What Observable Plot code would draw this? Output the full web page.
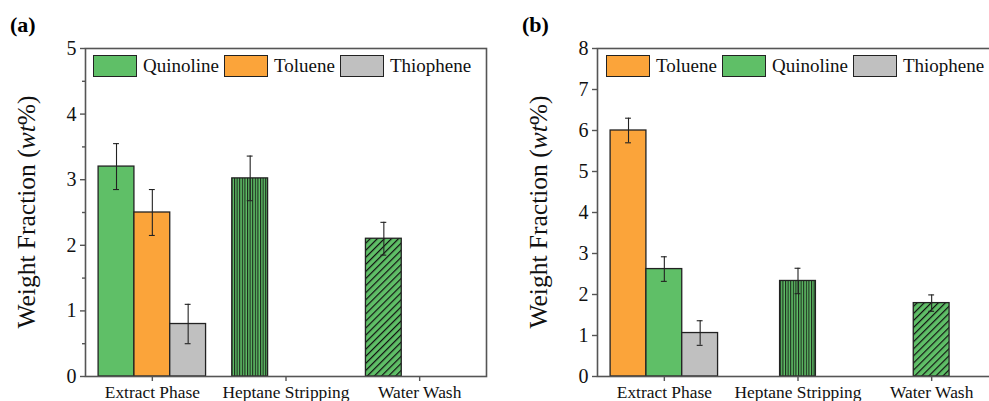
<!DOCTYPE html>
<html><head><meta charset="utf-8">
<script src="https://cdn.jsdelivr.net/npm/d3@7"></script>
<script src="https://cdn.jsdelivr.net/npm/@observablehq/plot@0.6"></script>
<style>
html,body{margin:0;padding:0;background:#fff;overflow:hidden;}
#wrap{position:relative;width:1010px;height:401px;overflow:hidden;}
.panel{position:absolute;top:0;}
.plabel{position:absolute;top:12px;font-family:"Liberation Serif",serif;font-weight:bold;font-size:22px;line-height:26px;}
.legend{position:absolute;top:55px;height:22px;display:flex;align-items:center;font-family:"Liberation Serif",serif;font-size:19px;color:#111;white-space:nowrap;}
.sw{box-sizing:border-box;width:44px;height:22px;border:1.3px solid #222;margin-right:6px;}
.lt{margin-right:5px;}
</style></head><body><div id="wrap"></div>
<script>
// ---- data ----
const categories = ["Extract Phase", "Heptane Stripping", "Water Wash"];

// panel (a)
const seriesA = ["Quinoline", "Toluene", "Thiophene"];
const quinolineA = [3.2, 3.02, 2.1];
const quinolineErrA = [0.35, 0.34, 0.25];
const tolueneA = [2.5, null, null];
const tolueneErrA = [0.35, null, null];
const thiopheneA = [0.8, null, null];
const thiopheneErrA = [0.3, null, null];
const yTicksA = [0, 1, 2, 3, 4, 5];
const yMinorA = [0.5, 1.5, 2.5, 3.5, 4.5];

// panel (b)
const seriesB = ["Toluene", "Quinoline", "Thiophene"];
const tolueneB = [6.0, null, null];
const tolueneErrB = [0.3, null, null];
const quinolineB = [2.62, 2.33, 1.79];
const quinolineErrB = [0.3, 0.31, 0.2];
const thiopheneB = [1.06, null, null];
const thiopheneErrB = [0.3, null, null];
const yTicksB = [0, 1, 2, 3, 4, 5, 6, 7, 8];
const yMinorB = [];

const colorOf = {Quinoline: "#5FBF67", Toluene: "#FBA43A", Thiophene: "#C0C0C0"};
const FONT = '"Liberation Serif", serif';

function makePanel({series, values, errors, yTicks, yMinor, idp}) {
  const W = 0.268, CAP = 0.022;
  const rows = [];
  series.forEach((s, j) => values[s].forEach((v, i) => {
    if (v == null) return;
    const c = i + (j - 1) * W;
    rows.push({cat: categories[i], ci: i, series: s, v, e: errors[s][i], x1: c - W / 2, x2: c + W / 2, xc: c});
  }));
  const yMax = yTicks[yTicks.length - 1];
  const barOpts = {x1: "x1", x2: "x2", y1: 0, y2: "v", stroke: "#222", strokeWidth: 1.3};
  const svgNode = Plot.plot({
    width: 493, height: 401,
    marginLeft: 85, marginRight: 7, marginTop: 48, marginBottom: 25,
    style: {fontFamily: FONT, color: "#111", background: "transparent"},
    x: {type: "linear", domain: [-0.5, 2.5], axis: null},
    y: {domain: [0, yMax], axis: null},
    color: {domain: series, range: series.map(s => colorOf[s])},
    marks: [
      Plot.rectY(rows.filter(d => d.ci === 0), {...barOpts, fill: "series"}),
      Plot.rectY(rows.filter(d => d.ci === 1), {...barOpts, fill: `url(#${idp}-v)`}),
      Plot.rectY(rows.filter(d => d.ci === 2), {...barOpts, fill: `url(#${idp}-d)`}),
      Plot.ruleX(rows, {x: "xc", y1: d => d.v - d.e, y2: d => d.v + d.e, stroke: "#222", strokeWidth: 1.1}),
      Plot.ruleY(rows, {x1: d => d.xc - CAP, x2: d => d.xc + CAP, y: d => d.v + d.e, stroke: "#222", strokeWidth: 1.1}),
      Plot.ruleY(rows, {x1: d => d.xc - CAP, x2: d => d.xc + CAP, y: d => d.v - d.e, stroke: "#222", strokeWidth: 1.1}),
      Plot.frame({stroke: "#555", strokeWidth: 1.6}),
      Plot.axisY({ticks: yTicks, tickSize: 5, tickPadding: 4, fontSize: 20, tickFormat: d => String(d), label: null, stroke: "#555", strokeWidth: 1.4}),
      ...(yMinor.length ? [Plot.axisY({ticks: yMinor, tickSize: 3, tickFormat: () => "", label: null, stroke: "#555", strokeWidth: 1.4})] : []),
      Plot.axisX({ticks: [0, 1, 2], tickFormat: i => categories[i], tickSize: 5, tickPadding: 4, fontSize: 17.4, label: null, stroke: "#555", strokeWidth: 1.4})
    ]
  });
  const svg = d3.select(svgNode);
  const defs = svg.insert("defs", ":first-child");
  const pv = defs.append("pattern").attr("id", idp + "-v").attr("patternUnits", "userSpaceOnUse")
    .attr("width", 2.6).attr("height", 10);
  pv.append("rect").attr("width", 2.6).attr("height", 10).attr("fill", colorOf.Quinoline);
  pv.append("rect").attr("x", 0).attr("width", 1.1).attr("height", 10).attr("fill", "#1a261a");
  const pd = defs.append("pattern").attr("id", idp + "-d").attr("patternUnits", "userSpaceOnUse")
    .attr("width", 5).attr("height", 10).attr("patternTransform", "rotate(45)");
  pd.append("rect").attr("width", 5).attr("height", 10).attr("fill", colorOf.Quinoline);
  pd.append("rect").attr("x", 0).attr("width", 1.2).attr("height", 10).attr("fill", "#111");
  const t = svg.append("text")
    .attr("transform", `translate(35,${(48 + 376) / 2}) rotate(-90)`)
    .attr("text-anchor", "middle").attr("font-size", 25.5).attr("font-family", FONT).attr("fill", "#111");
  t.append("tspan").text("Weight Fraction (");
  t.append("tspan").attr("font-style", "italic").text("wt");
  t.append("tspan").text("%)");
  return svgNode;
}

function legend(series, left) {
  const div = document.createElement("div");
  div.className = "legend";
  div.style.left = left + "px";
  series.forEach(s => {
    const sw = document.createElement("div");
    sw.className = "sw"; sw.style.background = colorOf[s];
    const tx = document.createElement("span");
    tx.className = "lt"; tx.textContent = s;
    div.appendChild(sw); div.appendChild(tx);
  });
  return div;
}

const wrap = document.getElementById("wrap");
const pa = makePanel({
  series: seriesA,
  values: {Quinoline: quinolineA, Toluene: tolueneA, Thiophene: thiopheneA},
  errors: {Quinoline: quinolineErrA, Toluene: tolueneErrA, Thiophene: thiopheneErrA},
  yTicks: yTicksA, yMinor: yMinorA, idp: "pa"
});
pa.classList.add("panel"); pa.style.left = "0px";
const pb = makePanel({
  series: seriesB,
  values: {Toluene: tolueneB, Quinoline: quinolineB, Thiophene: thiopheneB},
  errors: {Toluene: tolueneErrB, Quinoline: quinolineErrB, Thiophene: thiopheneErrB},
  yTicks: yTicksB, yMinor: yMinorB, idp: "pb"
});
pb.classList.add("panel"); pb.style.left = "512px";
wrap.appendChild(pa); wrap.appendChild(pb);
wrap.appendChild(legend(seriesA, 93));
wrap.appendChild(legend(seriesB, 606));
const la = document.createElement("div"); la.className = "plabel"; la.style.left = "10px"; la.textContent = "(a)";
const lb = document.createElement("div"); lb.className = "plabel"; lb.style.left = "522px"; lb.textContent = "(b)";
wrap.appendChild(la); wrap.appendChild(lb);
</script></body></html>
